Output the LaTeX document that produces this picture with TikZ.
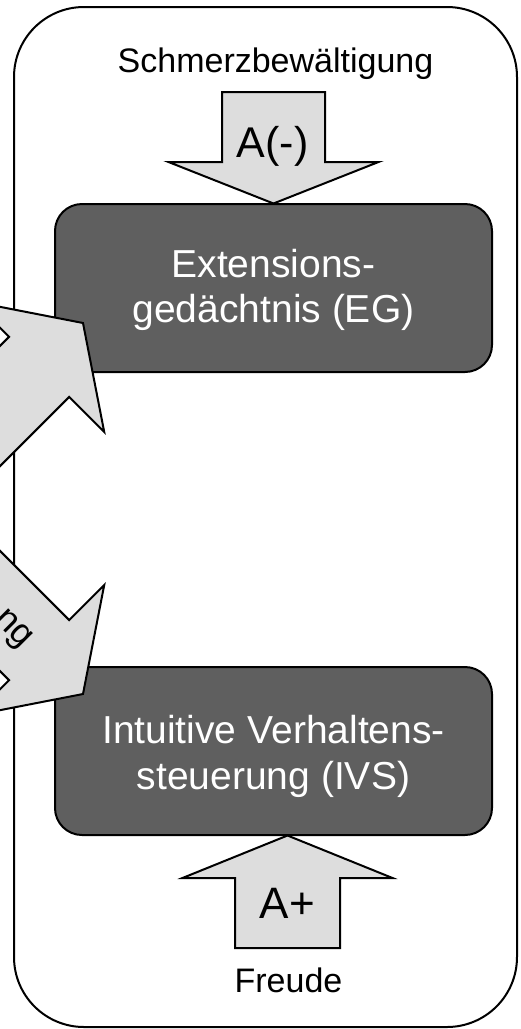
\documentclass[tikz,border=0pt]{standalone}
\usepackage{fontspec}
\setmainfont{Liberation Sans}
\newlength{\du}
\setlength{\du}{1pt}

\begin{document}
\begin{tikzpicture}[even odd rule]
\pgftransformxscale{1.000000}
\pgftransformyscale{-1.000000}
\useasboundingbox (0.000000\du,0.000000\du) rectangle (520.000000\du,1029.000000\du);
\definecolor{dialinecolor}{rgb}{0.000000, 0.000000, 0.000000}
\pgfsetstrokecolor{dialinecolor}
\pgfsetstrokeopacity{1.000000}
\definecolor{diafillcolor}{rgb}{1.000000, 1.000000, 1.000000}
\pgfsetfillcolor{diafillcolor}
\pgfsetfillopacity{1.000000}
\pgfsetlinewidth{2.000000\du}
\pgfsetdash{}{0pt}
\pgfsetmiterjoin
\pgfsetbuttcap
{\pgfsetcornersarced{\pgfpoint{70.000000\du}{70.000000\du}}\definecolor{dialinecolor}{rgb}{0.000000, 0.000000, 0.000000}
\pgfsetstrokecolor{dialinecolor}
\pgfsetstrokeopacity{1.000000}
\draw (14.000000\du,7.000000\du)--(14.000000\du,1027.000000\du)--(517.000000\du,1027.000000\du)--(517.000000\du,7.000000\du)--cycle;
}
\pgfsetlinewidth{2.000000\du}
\pgfsetdash{}{0pt}
\pgfsetmiterjoin
\pgfsetbuttcap
{\pgfsetcornersarced{\pgfpoint{27.000000\du}{27.000000\du}}\definecolor{diafillcolor}{rgb}{0.372549, 0.372549, 0.372549}
\pgfsetfillcolor{diafillcolor}
\pgfsetfillopacity{1.000000}
\fill (55.000000\du,204.000000\du)--(55.000000\du,372.000000\du)--(492.000000\du,372.000000\du)--(492.000000\du,204.000000\du)--cycle;
}{\pgfsetcornersarced{\pgfpoint{27.000000\du}{27.000000\du}}\definecolor{dialinecolor}{rgb}{0.000000, 0.000000, 0.000000}
\pgfsetstrokecolor{dialinecolor}
\pgfsetstrokeopacity{1.000000}
\draw (55.000000\du,204.000000\du)--(55.000000\du,372.000000\du)--(492.000000\du,372.000000\du)--(492.000000\du,204.000000\du)--cycle;
}\pgfsetlinewidth{2.000000\du}
\pgfsetdash{}{0pt}
\pgfsetmiterjoin
\pgfsetbuttcap
{\pgfsetcornersarced{\pgfpoint{27.000000\du}{27.000000\du}}\definecolor{diafillcolor}{rgb}{0.372549, 0.372549, 0.372549}
\pgfsetfillcolor{diafillcolor}
\pgfsetfillopacity{1.000000}
\fill (55.000000\du,667.000000\du)--(55.000000\du,835.000000\du)--(492.000000\du,835.000000\du)--(492.000000\du,667.000000\du)--cycle;
}{\pgfsetcornersarced{\pgfpoint{27.000000\du}{27.000000\du}}\definecolor{dialinecolor}{rgb}{0.000000, 0.000000, 0.000000}
\pgfsetstrokecolor{dialinecolor}
\pgfsetstrokeopacity{1.000000}
\draw (55.000000\du,667.000000\du)--(55.000000\du,835.000000\du)--(492.000000\du,835.000000\du)--(492.000000\du,667.000000\du)--cycle;
}\pgfsetlinewidth{2.000000\du}
\pgfsetdash{}{0pt}
\pgfsetmiterjoin
\pgfsetbuttcap
{\definecolor{diafillcolor}{rgb}{0.866667, 0.866667, 0.866667}
\pgfsetfillcolor{diafillcolor}
\pgfsetfillopacity{1.000000}
\definecolor{dialinecolor}{rgb}{0.000000, 0.000000, 0.000000}
\pgfsetstrokecolor{dialinecolor}
\filldraw (222.000000\du,92.000000\du)--(325.000000\du,92.000000\du)--(325.000000\du,162.000000\du)--(378.500000\du,162.000000\du)--(273.500000\du,203.500000\du)--(168.500000\du,162.000000\du)--(222.000000\du,162.000000\du)--cycle;
}
{\definecolor{diafillcolor}{rgb}{0.866667, 0.866667, 0.866667}
\pgfsetfillcolor{diafillcolor}
\pgfsetfillopacity{1.000000}
\definecolor{dialinecolor}{rgb}{0.000000, 0.000000, 0.000000}
\pgfsetstrokecolor{dialinecolor}
\filldraw (235.000000\du,948.000000\du)--(340.000000\du,948.000000\du)--(340.000000\du,878.000000\du)--(392.500000\du,878.000000\du)--(287.500000\du,835.500000\du)--(182.500000\du,878.000000\du)--(235.000000\du,878.000000\du)--cycle;
}
{\definecolor{diafillcolor}{rgb}{0.866667, 0.866667, 0.866667}
\pgfsetfillcolor{diafillcolor}
\pgfsetfillopacity{1.000000}
\definecolor{dialinecolor}{rgb}{0.000000, 0.000000, 0.000000}
\pgfsetstrokecolor{dialinecolor}
\filldraw (83.000000\du,323.000000\du)--(104.210000\du,431.890000\du)--(69.210000\du,396.890000\du)--(-72.210000\du,538.310000\du)--(-132.310000\du,478.210000\du)--(9.110000\du,336.790000\du)--(-25.890000\du,301.790000\du)--cycle;
}
{\definecolor{diafillcolor}{rgb}{0.866667, 0.866667, 0.866667}
\pgfsetfillcolor{diafillcolor}
\pgfsetfillopacity{1.000000}
\definecolor{dialinecolor}{rgb}{0.000000, 0.000000, 0.000000}
\pgfsetstrokecolor{dialinecolor}
\filldraw (83.000000\du,694.000000\du)--(104.210000\du,585.110000\du)--(69.210000\du,620.110000\du)--(-72.210000\du,478.690000\du)--(-132.310000\du,538.790000\du)--(9.110000\du,680.210000\du)--(-25.890000\du,715.210000\du)--cycle;
}
% setfont left to latex
\definecolor{dialinecolor}{rgb}{0.000000, 0.000000, 0.000000}
\pgfsetstrokecolor{dialinecolor}
\node[anchor=base,font=\fontsize{34}{40}\selectfont] (schmerz) at (275.500000\du,72.000000\du){\textcolor{dialinecolor}{Schmerzbewältigung}};
\node[anchor=base,font=\fontsize{43}{50}\selectfont] (aminus) at (272.500000\du,157.000000\du){\textcolor{dialinecolor}{A(-)}};
\node[anchor=base,font=\fontsize{44}{50}\selectfont] (aplus) at (287.500000\du,918.000000\du){\textcolor{dialinecolor}{A+}};
\node[anchor=base,font=\fontsize{34}{40}\selectfont] (freude) at (288.500000\du,992.000000\du){\textcolor{dialinecolor}{Freude}};
\node[anchor=center,rotate=-45,font=\fontsize{36}{42}\selectfont] (ng) at (12.000000\du,630.000000\du){\textcolor{dialinecolor}{ng}};
\definecolor{dialinecolor}{rgb}{1.000000, 1.000000, 1.000000}
\node[anchor=center,align=center,text=dialinecolor,font=\fontsize{39}{45}\selectfont] (egtext) at (273.500000\du,290.000000\du){Extensions-\\gedächtnis (EG)};
\node[anchor=center,align=center,text=dialinecolor,font=\fontsize{39}{46}\selectfont] (ivstext) at (273.500000\du,756.000000\du){Intuitive Verhaltens-\\steuerung (IVS)};
\end{tikzpicture}
\end{document}
